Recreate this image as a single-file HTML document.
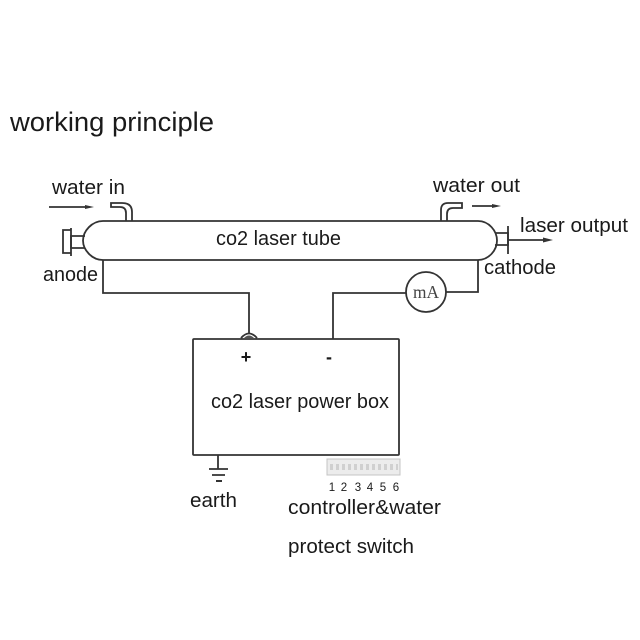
<!DOCTYPE html>
<html>
<head>
<meta charset="utf-8">
<style>
html,body{margin:0;padding:0;background:#fff}
svg{display:block}
text{font-family:"Liberation Sans",sans-serif;fill:#1a1a1a}
.l{font-size:20px}
</style>
</head>
<body>
<svg width="640" height="640" viewBox="0 0 640 640" xmlns="http://www.w3.org/2000/svg">
<text x="10" y="131" font-size="26.500" textLength="204" lengthAdjust="spacingAndGlyphs">working principle</text>
<g fill="none" stroke="#333" stroke-width="1.800">
<!-- tube -->
<path d="M103 221H478C489 221 497 231 497 240.500C497 250 489 260 478 260H103C92 260 83 250 83 240.500C83 231 92 221 103 221Z"/>
<!-- left cap -->
<path d="M85 236H71V248H85"/>
<path d="M71 228V256M71 230H63V253H71"/>
<!-- right cap -->
<path d="M495 233H508V245H495"/>
<path d="M508 226V254"/>
<path d="M508 240H546"/>
<!-- water in pipe -->
<path d="M126 221V213Q126 207 120 207H111V203H122Q132 203 132 212V221"/>
<!-- water out pipe -->
<path d="M441 221V210Q441 203 448 203H462V208H453Q447 208 447 214V221"/>
<!-- wires -->
<path d="M103 260V293H249V333"/>
<path d="M333 339V293H406"/>
<path d="M446 292H478V260"/>
<circle cx="426" cy="292" r="20"/>
<!-- box -->
<rect x="193" y="339" width="206" height="116" rx="1"/>
<path d="M241 338Q249 329 257 338"/>
<!-- arrows -->
<path d="M49 207H88"/>
<path d="M472 206H495"/>
<!-- earth -->
<path d="M218 455V469M209 469H228M212 475H225" />
</g>
<path d="M244 338Q249 333 254 338Z" fill="#555"/>
<path d="M216 481H222" stroke="#333" stroke-width="2"/>
<path d="M94 207L85 205V209Z" fill="#333"/>
<path d="M501 206L492 204V208Z" fill="#333"/>
<path d="M553 240L543 237.500V242.500Z" fill="#333"/>
<text x="426" y="298" font-size="18" text-anchor="middle" textLength="26" lengthAdjust="spacingAndGlyphs" style="font-family:'Liberation Serif',serif;fill:#444">mA</text>
<text class="l" x="52" y="194" textLength="73" lengthAdjust="spacingAndGlyphs">water in</text>
<text class="l" x="433" y="192" textLength="87" lengthAdjust="spacingAndGlyphs">water out</text>
<text class="l" x="520" y="232" textLength="108" lengthAdjust="spacingAndGlyphs">laser output</text>
<text class="l" x="216" y="245" textLength="125" lengthAdjust="spacingAndGlyphs">co2 laser tube</text>
<text class="l" x="43" y="281" textLength="55" lengthAdjust="spacingAndGlyphs">anode</text>
<text class="l" x="484" y="274" textLength="72" lengthAdjust="spacingAndGlyphs">cathode</text>
<text class="l" x="211" y="408" textLength="178" lengthAdjust="spacingAndGlyphs">co2 laser power box</text>
<text class="l" x="190" y="507" textLength="47" lengthAdjust="spacingAndGlyphs">earth</text>
<text class="l" x="288" y="514" textLength="153" lengthAdjust="spacingAndGlyphs">controller&amp;water</text>
<text class="l" x="288" y="553" textLength="126" lengthAdjust="spacingAndGlyphs">protect switch</text>
<text x="246" y="363" font-size="18" font-weight="bold" text-anchor="middle">+</text>
<text x="329" y="363" font-size="18" font-weight="bold" text-anchor="middle">-</text>
<!-- switch -->
<rect x="327" y="459" width="73" height="16" fill="#ececec" stroke="#c4c4c4" stroke-width="1"/>
<path d="M330 467H398" stroke="#d0d0d0" stroke-width="6" stroke-dasharray="3 3" fill="none"/>
<g font-size="11.500" text-anchor="middle" style="fill:#333">
<text x="332" y="491">1</text>
<text x="344" y="491">2</text>
<text x="358" y="491">3</text>
<text x="370" y="491">4</text>
<text x="383" y="491">5</text>
<text x="396" y="491">6</text>
</g>
</svg>
</body>
</html>
